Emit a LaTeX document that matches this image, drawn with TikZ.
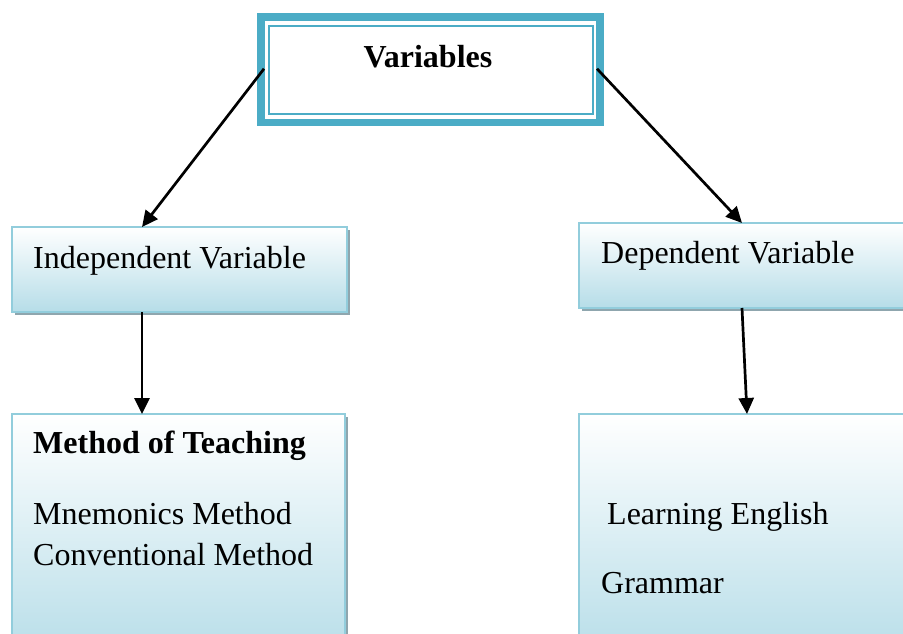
\documentclass[tikz,border=0pt]{standalone}
\usepackage{fontspec}
\setmainfont{Liberation Serif}
\usetikzlibrary{arrows.meta,shadows}
\definecolor{teal}{HTML}{4BACC6}
\definecolor{edgeblue}{HTML}{92CDDC}
\definecolor{fillblue}{HTML}{B6DDE8}
\definecolor{shadowgrey}{HTML}{8FA6AE}
\tikzset{
  x=1pt, y=1pt,
  txt/.style={font=\fontsize{32}{41}\selectfont, inner sep=0, anchor=base west},
  grad/.style={draw=edgeblue, line width=1.6pt, top color=white, bottom color=fillblue,
    drop shadow={shadow xshift=3pt, shadow yshift=-3pt, fill=shadowgrey, opacity=1}},
  anchorbox/.style={inner sep=0, outer sep=0},
  link/.style={line width=2.7pt, -{Triangle[length=16pt,width=15pt]}}
}
\begin{document}
\begin{tikzpicture}
\useasboundingbox (0,0) rectangle (903,-633);
% top box with thick teal frame and thin inner frame
\node[draw=teal, line width=7.5pt, outer sep=0, minimum width=339, minimum height=105.5, inner sep=0]
  (var) at (430.5,-69.75) {};
\draw[teal, line width=2pt] ([shift={(8,-8.5)}]var.north west) rectangle ([shift={(-7.5,8.5)}]var.south east);
\node[txt, anchor=base, font=\fontsize{32}{38}\selectfont\bfseries] (vartxt) at (428,-67) {Variables};

% second row
\path[grad] (12,-227) rectangle (347,-312);
\path[grad] (579,-223) rectangle (912,-308);
\node[anchorbox, minimum width=335, minimum height=85] (ind) at (179.5,-269.5) {};
\node[anchorbox, minimum width=333, minimum height=85] (dep) at (745.5,-265.5) {};
\node[txt] (indtxt) at (33,-268) {Independent Variable};
\node[txt] (deptxt) at (601,-263) {Dependent Variable};

% third row
\path[grad] (12,-414) rectangle (345,-660);
\path[grad] (579,-414) rectangle (920,-660);
\node[anchorbox, minimum width=333, minimum height=246] (meth) at (178.5,-537) {};
\node[anchorbox, minimum width=341, minimum height=246] (lang) at (749.5,-537) {};
\node[txt, font=\fontsize{32}{41}\selectfont\bfseries] (methtxt) at (33,-453) {Method of Teaching};
\node[txt] (mnem) at (33,-524) {Mnemonics Method};
\node[txt] (conv) at (33,-565) {Conventional Method};
\node[txt] (learn) at (607,-524) {Learning English};
\node[txt] (gram) at (601,-593) {Grammar};

% connectors
\draw[link] ([shift={(3,1)}]var.west) -- ([xshift=-37.5]ind.north);
\draw[link] ([shift={(-3,1)}]var.east) -- ([xshift=-3.5]dep.north);
\draw[link] ([xshift=-37.5]ind.south) -- ([xshift=-36.5]meth.north);
\draw[link] ([xshift=-3.5]dep.south) -- ([xshift=-2.5]lang.north);
\end{tikzpicture}
\end{document}
